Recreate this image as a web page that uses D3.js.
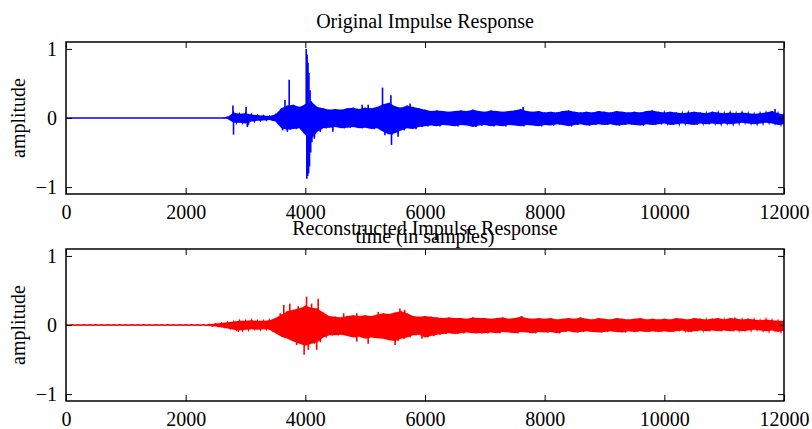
<!DOCTYPE html>
<html>
<head>
<meta charset="utf-8">
<script src="https://cdn.jsdelivr.net/npm/d3@7"></script>
<style>
  body { margin: 0; background: #fff; }
  text { font-family: "Liberation Serif", "Times New Roman", serif; fill: #000; }
</style>
</head>
<body>
<div id="chart"></div>
<script>
//////////////////////////////////////////////////////////////////////////////
// Data: envelope (max / min) of each signal every
// 100 samples, plus the narrow peaks that stand out of the envelope.

var samples = d3.range(0, 12001, 100);
var xTicks = [0, 2000, 4000, 6000, 8000, 10000, 12000];
var yTicks = [-1, 0, 1];

var originalHi = [
  0,0,0,0,0,0,0,0,0,0,
  0,0,0,0,0,0,0,0,0,0,
  0,0,0,0,0,0,0,0.015,0.08,0.06,
  0.07,0.05,0.04,0.035,0.03,0.05,0.14,0.18,0.19,0.16,
  0.2,0.24,0.16,0.14,0.12,0.13,0.12,0.14,0.15,0.13,
  0.15,0.14,0.16,0.2,0.22,0.17,0.15,0.18,0.16,0.14,
  0.12,0.1,0.11,0.1,0.09,0.1,0.11,0.1,0.12,0.1,
  0.09,0.11,0.1,0.09,0.1,0.11,0.13,0.1,0.09,0.1,
  0.08,0.09,0.08,0.1,0.11,0.09,0.08,0.09,0.08,0.1,
  0.09,0.08,0.1,0.09,0.08,0.09,0.08,0.1,0.11,0.09,
  0.08,0.09,0.08,0.07,0.08,0.09,0.08,0.07,0.09,0.08,
  0.07,0.08,0.07,0.08,0.07,0.06,0.07,0.08,0.1,0.07,
  0.05
];
var originalLo = [
  0,0,0,0,0,0,0,0,0,0,
  0,0,0,0,0,0,0,0,0,0,
  0,0,0,0,0,0,0,-0.015,-0.07,-0.07,
  -0.08,-0.05,-0.04,-0.035,-0.03,-0.05,-0.15,-0.17,-0.16,-0.15,
  -0.25,-0.3,-0.2,-0.15,-0.14,-0.13,-0.15,-0.14,-0.13,-0.15,
  -0.14,-0.16,-0.15,-0.2,-0.24,-0.22,-0.18,-0.15,-0.16,-0.13,
  -0.12,-0.11,-0.12,-0.1,-0.11,-0.12,-0.1,-0.11,-0.13,-0.11,
  -0.1,-0.12,-0.11,-0.12,-0.1,-0.11,-0.12,-0.1,-0.11,-0.12,
  -0.1,-0.11,-0.09,-0.1,-0.12,-0.1,-0.09,-0.11,-0.1,-0.09,
  -0.1,-0.09,-0.11,-0.1,-0.09,-0.1,-0.11,-0.09,-0.1,-0.09,
  -0.08,-0.1,-0.09,-0.08,-0.09,-0.1,-0.08,-0.09,-0.08,-0.09,
  -0.08,-0.09,-0.08,-0.07,-0.08,-0.09,-0.08,-0.07,-0.08,-0.1,
  -0.09
];
var originalPeaks = [
  [2790, 0.18], [2800, -0.24], [3010, 0.16], [3030, -0.13],
  [3660, 0.26], [3700, -0.2], [3730, 0.555], [3620, -0.18],
  [4015, 1.0], [4030, 0.92], [4045, 0.8], [4060, 0.65], [4080, 0.4],
  [4025, -0.88], [4040, -0.84], [4055, -0.8], [4070, -0.7], [4090, -0.5], [4110, -0.35],
  [4460, -0.2], [4950, 0.19], [5050, 0.19],
  [5290, 0.44], [5330, -0.25], [5430, 0.33], [5440, -0.39], [5550, -0.27],
  [5750, 0.21], [7640, 0.16], [11850, 0.13]
];

var reconHi = [
  0.003,0.003,0.003,0.003,0.003,0.003,0.003,0.003,0.003,0.003,
  0.003,0.003,0.003,0.003,0.003,0.003,0.003,0.003,0.003,0.003,
  0.003,0.003,0.003,0.005,0.01,0.02,0.03,0.04,0.05,0.06,
  0.06,0.07,0.06,0.06,0.07,0.1,0.15,0.2,0.22,0.24,
  0.28,0.25,0.24,0.18,0.13,0.12,0.11,0.13,0.14,0.13,
  0.14,0.13,0.15,0.17,0.16,0.18,0.2,0.17,0.13,0.12,
  0.13,0.12,0.11,0.1,0.11,0.1,0.1,0.09,0.11,0.1,
  0.1,0.09,0.1,0.11,0.09,0.1,0.12,0.1,0.09,0.1,
  0.09,0.1,0.08,0.09,0.1,0.09,0.11,0.09,0.08,0.1,
  0.09,0.08,0.1,0.09,0.08,0.09,0.1,0.08,0.09,0.08,
  0.09,0.08,0.1,0.09,0.08,0.1,0.09,0.08,0.09,0.1,
  0.08,0.1,0.09,0.08,0.09,0.08,0.07,0.08,0.07,0.06,
  0.06
];
var reconLo = [
  -0.003,-0.003,-0.003,-0.003,-0.003,-0.003,-0.003,-0.003,-0.003,-0.003,
  -0.003,-0.003,-0.003,-0.003,-0.003,-0.003,-0.003,-0.003,-0.003,-0.003,
  -0.003,-0.003,-0.003,-0.008,-0.015,-0.02,-0.035,-0.05,-0.07,-0.08,
  -0.07,-0.06,-0.07,-0.06,-0.07,-0.12,-0.17,-0.2,-0.24,-0.27,
  -0.3,-0.27,-0.25,-0.18,-0.15,-0.15,-0.14,-0.16,-0.18,-0.17,
  -0.2,-0.18,-0.19,-0.2,-0.22,-0.23,-0.2,-0.18,-0.15,-0.14,
  -0.18,-0.16,-0.14,-0.13,-0.12,-0.13,-0.12,-0.11,-0.12,-0.12,
  -0.12,-0.11,-0.12,-0.1,-0.11,-0.12,-0.1,-0.11,-0.12,-0.1,
  -0.11,-0.1,-0.12,-0.1,-0.09,-0.11,-0.1,-0.09,-0.1,-0.11,
  -0.1,-0.09,-0.1,-0.11,-0.09,-0.1,-0.09,-0.1,-0.09,-0.1,
  -0.09,-0.1,-0.09,-0.08,-0.1,-0.09,-0.08,-0.09,-0.08,-0.09,
  -0.08,-0.09,-0.08,-0.09,-0.08,-0.07,-0.08,-0.09,-0.08,-0.1,
  -0.08
];
var reconPeaks = [
  [2880, -0.1], [3580, 0.17], [3630, -0.15], [3640, 0.29], [3740, 0.31],
  [3830, 0.22], [3855, -0.29], [3880, 0.27], [3980, -0.43], [4020, 0.41],
  [4050, -0.36], [4105, 0.31], [4190, -0.36], [4215, 0.38], [4330, 0.12],
  [4640, 0.17], [4860, 0.17], [4860, -0.24], [5050, -0.27], [5220, 0.19],
  [5500, -0.29], [5580, 0.24], [5660, 0.22], [5950, -0.2], [7620, 0.13],
  [11180, 0.11]
];

//////////////////////////////////////////////////////////////////////////////
// Layout

var width = 812, height = 429;
var left = 66, right = 784, plotH = 152;
var tops = [42, 249];

var xScale = d3.scaleLinear().domain([0, 12000]).range([left, right]);

var svg = d3.select("#chart")
    .append("svg")
    .attr("width", width)
    .attr("height", height);

function drawPanel(top, hi, lo, peaks, color, title, id)
{
    var yScale = d3.scaleLinear().domain([-1.1, 1.1]).range([top + plotH, top]);
    var g = svg.append("g");

    g.append("clipPath").attr("id", id)
        .append("rect")
        .attr("x", left).attr("y", top)
        .attr("width", right - left).attr("height", plotH);

    var body = g.append("g").attr("clip-path", "url(#" + id + ")");

    var rows = samples.map(function(s, i) { return { s: s, hi: hi[i], lo: lo[i] }; });

    // filled envelope
    body.append("path")
        .datum(rows)
        .attr("fill", color)
        .attr("d", d3.area()
            .x(function(d) { return xScale(d.s); })
            .y0(function(d) { return yScale(d.lo); })
            .y1(function(d) { return yScale(d.hi); }));

    // zig-zag between max and min to give the trace its ragged edge
    var zig = [];
    rows.forEach(function(d) {
        zig.push([d.s, d.hi]);
        zig.push([d.s + 50, d.lo]);
    });
    body.append("path")
        .datum(zig)
        .attr("fill", "none")
        .attr("stroke", color)
        .attr("stroke-width", 1.4)
        .attr("d", d3.line()
            .x(function(d) { return xScale(d[0]); })
            .y(function(d) { return yScale(d[1]); }));

    body.selectAll("line.peak")
        .data(peaks)
        .enter()
        .append("line")
        .attr("class", "peak")
        .attr("x1", function(d) { return xScale(d[0]); })
        .attr("x2", function(d) { return xScale(d[0]); })
        .attr("y1", yScale(0))
        .attr("y2", function(d) { return yScale(d[1]); })
        .attr("stroke", color)
        .attr("stroke-width", 1.6);

    // axes: inward ticks on all four sides
    var fmt = d3.format("d");
    var ax;
    ax = g.append("g").attr("transform", "translate(0," + (top + plotH) + ")")
        .call(d3.axisBottom(xScale).tickValues(xTicks).tickFormat(fmt).tickSize(-6).tickPadding(11));
    ax.selectAll("text").attr("font-size", 20);
    g.append("g").attr("transform", "translate(0," + top + ")")
        .call(d3.axisTop(xScale).tickValues(xTicks).tickFormat("").tickSize(-6));
    ax = g.append("g").attr("transform", "translate(" + left + ",0)")
        .call(d3.axisLeft(yScale).tickValues(yTicks).tickFormat(fmt).tickSize(-6).tickPadding(9));
    ax.selectAll("text").attr("font-size", 20);
    g.append("g").attr("transform", "translate(" + right + ",0)")
        .call(d3.axisRight(yScale).tickValues(yTicks).tickFormat("").tickSize(-6));
    g.selectAll(".domain").remove();
    g.selectAll(".tick line").attr("stroke", "#000");
    g.selectAll(".tick text").attr("font-family", "Liberation Serif").attr("fill", "#000");

    g.append("rect")
        .attr("x", left).attr("y", top)
        .attr("width", right - left).attr("height", plotH)
        .attr("fill", "none")
        .attr("stroke", "#000")
        .attr("stroke-width", 1.5);

    g.append("text")
        .attr("x", (left + right) / 2)
        .attr("y", top - 14)
        .attr("text-anchor", "middle")
        .attr("font-size", 20)
        .text(title);

    g.append("text")
        .attr("transform", "translate(25," + yScale(0) + ") rotate(-90)")
        .attr("text-anchor", "middle")
        .attr("font-size", 20)
        .text("amplitude");
}

drawPanel(tops[0], originalHi, originalLo, originalPeaks, "#0000ff", "Original Impulse Response", "clipTop");
drawPanel(tops[1], reconHi, reconLo, reconPeaks, "#ff0000", "Reconstructed Impulse Response", "clipBottom");

svg.append("text")
    .attr("x", (left + right) / 2)
    .attr("y", 243)
    .attr("text-anchor", "middle")
    .attr("font-size", 20)
    .text("time (in samples)");
</script>
</body>
</html>
